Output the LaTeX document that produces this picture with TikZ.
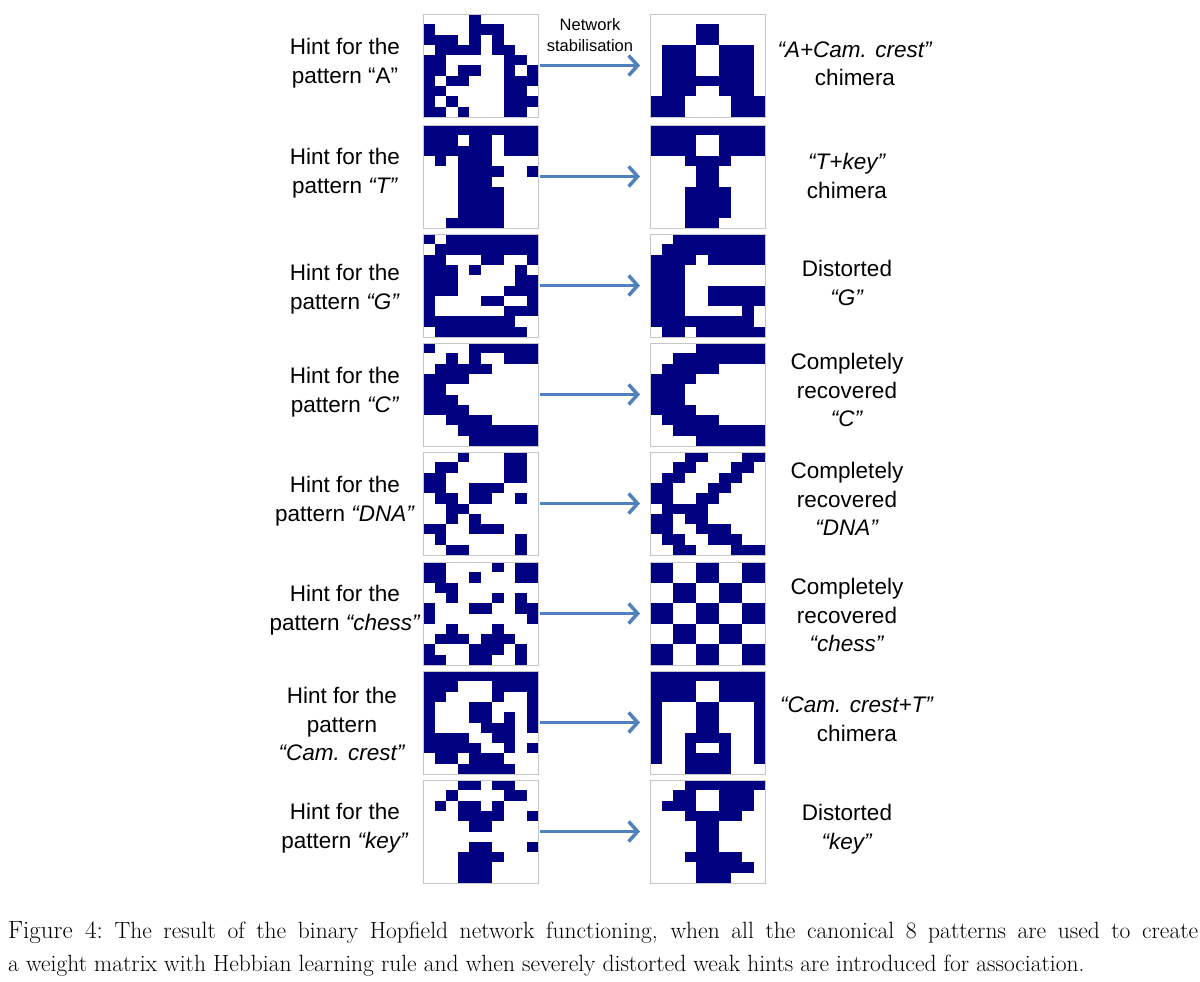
\documentclass[tikz,border=0pt]{standalone}
\usepackage{fontspec}
\newfontfamily\arial{Liberation Sans}
\usetikzlibrary{arrows.meta}
\definecolor{navy}{RGB}{0,0,128}
\definecolor{arrowblue}{RGB}{79,129,189}
\newcommand\hgrid[2]{%
  \foreach \rw [count=\r from 0] in {#2} {
    \foreach \v [count=\c from 0] in \rw {
      \ifnum\v=1 \fill[navy] ([xshift=\c*11.5pt,yshift=-\r*10.3pt]#1.north west) rectangle ++(11.5,10.3);\fi
    }
  }
  \draw[gray!45,line width=0.8pt] (#1.north west) rectangle (#1.south east);
}
\begin{document}
\begin{tikzpicture}[x=1pt,y=-1pt,
  panel/.style={rectangle,minimum width=115pt,minimum height=103pt,inner sep=0pt,outer sep=0pt},
  lab/.style={font=\arial\fontsize{22.5}{28.5}\selectfont,align=center},
  conn/.style={arrowblue,line width=3.5pt,-{Straight Barb[length=9pt,width=20pt,line width=3.5pt]},shorten >=10pt,shorten <=2pt}]
\useasboundingbox (0,0) rectangle (1200,982);
\foreach \i/\t in {1/14,2/125,3/234,4/343,5/452,6/562,7/671,8/780}{
  \node[panel] (L\i) at (480.5,\t+51.5) {};
  \node[panel] (R\i) at (707.5,\t+51.5) {};
  \draw[conn] (L\i.east) -- (R\i.west);
}
% A
\hgrid{L1}{{0,0,0,0,1,0,0,0,0,0},{1,0,0,0,1,1,1,0,0,0},{1,1,1,0,1,0,1,0,0,0},{0,1,1,1,1,0,1,1,0,0},{1,1,0,0,0,0,0,1,1,0},{1,1,0,1,1,0,0,1,0,1},{1,0,1,1,0,0,0,1,1,1},{1,1,0,0,0,0,0,1,1,0},{1,0,1,0,0,0,0,1,1,1},{1,1,0,1,0,0,0,1,1,0}}
\hgrid{R1}{{0,0,0,0,0,0,0,0,0,0},{0,0,0,0,1,1,0,0,0,0},{0,0,0,0,1,1,0,0,0,0},{0,1,1,1,0,0,1,1,1,0},{0,1,1,1,0,0,1,1,1,0},{0,1,1,1,0,0,1,1,1,0},{0,1,1,1,1,1,1,1,1,0},{0,1,1,1,0,0,1,1,1,0},{1,1,1,0,0,0,0,1,1,1},{1,1,1,0,0,0,0,1,1,1}}
% T
\hgrid{L2}{{1,1,1,1,1,1,1,1,1,1},{1,1,1,0,1,1,0,1,1,1},{1,1,1,1,1,1,0,1,1,1},{0,1,0,1,1,1,0,0,0,0},{0,0,0,1,1,1,1,0,0,1},{0,0,0,1,1,1,0,0,0,0},{0,0,0,1,1,1,1,0,0,0},{0,0,0,1,1,1,1,0,0,0},{0,0,0,1,1,1,1,0,0,0},{0,0,1,1,1,1,1,0,0,0}}
\hgrid{R2}{{1,1,1,1,1,1,1,1,1,1},{1,1,1,1,0,0,1,1,1,1},{1,1,1,1,0,0,1,1,1,1},{0,0,0,1,1,1,1,0,0,0},{0,0,0,0,1,1,0,0,0,0},{0,0,0,0,1,1,0,0,0,0},{0,0,0,1,1,1,1,0,0,0},{0,0,0,1,1,1,1,0,0,0},{0,0,0,1,1,1,1,0,0,0},{0,0,0,1,1,1,0,0,0,0}}
% G
\hgrid{L3}{{1,0,1,1,1,1,1,1,1,1},{0,1,1,1,1,1,1,1,1,1},{1,1,0,0,0,1,1,0,0,1},{1,1,1,0,1,0,0,0,1,0},{1,1,1,0,0,0,0,0,1,1},{1,1,1,0,0,0,0,1,1,1},{1,0,0,0,0,1,1,0,0,1},{1,0,0,0,0,0,0,1,1,1},{1,1,1,1,1,1,1,1,0,0},{0,1,1,1,1,1,1,1,1,0}}
\hgrid{R3}{{0,0,1,1,1,1,1,1,1,1},{0,1,1,1,1,1,1,1,1,1},{1,1,1,1,0,1,1,1,1,1},{1,1,1,0,0,0,0,0,0,0},{1,1,1,0,0,0,0,0,0,0},{1,1,1,0,0,1,1,1,1,1},{1,1,1,0,0,1,1,1,1,1},{1,1,1,0,0,0,0,0,1,0},{1,1,1,1,1,1,1,1,1,0},{0,1,1,0,1,1,1,1,1,1}}
% C
\hgrid{L4}{{1,0,0,0,1,1,1,1,1,1},{0,0,1,0,1,0,0,1,1,1},{0,1,1,1,1,1,0,0,0,0},{1,1,1,1,0,0,0,0,0,0},{1,1,0,0,0,0,0,0,0,0},{1,1,1,0,0,0,0,0,0,0},{1,1,1,1,0,0,0,0,0,0},{0,0,1,1,1,1,0,0,0,0},{0,0,0,1,1,1,1,1,1,1},{0,0,0,0,1,1,1,1,1,1}}
\hgrid{R4}{{0,0,0,0,1,1,1,1,1,1},{0,0,1,1,1,1,1,1,1,1},{0,1,1,1,1,1,0,0,0,0},{1,1,1,1,0,0,0,0,0,0},{1,1,1,0,0,0,0,0,0,0},{1,1,1,0,0,0,0,0,0,0},{1,1,1,1,0,0,0,0,0,0},{0,1,1,1,1,1,0,0,0,0},{0,0,1,1,1,1,1,1,1,1},{0,0,0,0,1,1,1,1,1,1}}
% DNA
\hgrid{L5}{{0,0,0,1,0,0,0,1,1,0},{0,1,1,0,0,0,0,1,1,0},{1,1,0,0,0,0,0,1,1,0},{1,1,0,0,1,1,1,0,0,0},{0,1,1,0,1,1,0,0,1,0},{0,0,1,1,0,0,0,0,0,0},{0,0,1,0,1,0,0,0,0,0},{1,1,0,0,1,1,1,0,0,0},{0,1,0,0,0,0,0,0,1,0},{0,0,1,1,0,0,0,0,1,0}}
\hgrid{R5}{{0,0,0,1,1,0,0,0,1,1},{0,0,1,1,0,0,0,1,1,0},{0,1,1,0,0,0,1,1,0,0},{1,1,0,0,0,1,1,0,0,0},{1,1,0,0,1,1,0,0,0,0},{0,1,1,1,1,0,0,0,0,0},{1,1,0,1,1,0,0,0,0,0},{1,1,0,0,1,1,1,0,0,0},{0,1,1,0,0,1,1,1,0,0},{0,0,1,1,0,0,0,1,1,1}}
% chess
\hgrid{L6}{{1,1,0,0,0,0,1,0,1,1},{1,1,0,0,1,0,0,0,1,1},{0,1,1,0,0,0,0,0,0,0},{0,0,1,0,0,0,1,0,1,0},{1,0,0,0,1,1,0,0,1,1},{1,0,0,0,0,0,0,0,0,1},{0,0,1,0,0,0,1,0,0,0},{0,1,1,1,0,1,1,1,0,0},{1,0,0,0,1,1,1,0,1,0},{1,1,0,0,1,1,0,0,1,0}}
\hgrid{R6}{{1,1,0,0,1,1,0,0,1,1},{1,1,0,0,1,1,0,0,1,1},{0,0,1,1,0,0,1,1,0,0},{0,0,1,1,0,0,1,1,0,0},{1,1,0,0,1,1,0,0,1,1},{1,1,0,0,1,1,0,0,1,1},{0,0,1,1,0,0,1,1,0,0},{0,0,1,1,0,0,1,1,0,0},{1,1,0,0,1,1,0,0,1,1},{1,1,0,0,1,1,0,0,1,1}}
% Cam crest
\hgrid{L7}{{1,1,1,1,1,1,1,1,1,1},{1,1,1,0,0,0,1,1,1,1},{1,1,0,0,0,0,1,0,0,1},{1,0,0,0,1,1,0,0,0,1},{1,0,0,0,1,1,0,1,0,1},{1,0,0,0,0,1,1,1,0,1},{1,1,1,1,0,0,1,1,0,0},{1,1,1,1,1,0,0,1,0,1},{0,1,1,0,1,1,1,0,0,0},{0,0,0,1,1,1,1,1,0,0}}
\hgrid{R7}{{1,1,1,1,1,1,1,1,1,1},{1,1,1,1,0,0,1,1,1,1},{1,1,1,1,0,0,1,1,1,1},{1,0,0,0,1,1,0,0,0,1},{1,0,0,0,1,1,0,0,0,1},{1,0,0,0,1,1,0,0,0,1},{1,0,0,1,1,1,1,0,0,1},{1,0,0,1,0,0,1,0,0,1},{1,0,0,1,1,1,1,0,0,1},{0,0,0,1,1,1,1,0,0,0}}
% key
\hgrid{L8}{{0,0,0,1,1,0,1,1,0,0},{0,0,1,0,0,0,0,1,1,0},{0,1,0,1,1,0,1,0,0,0},{0,0,0,1,1,1,1,0,0,1},{0,0,0,0,1,1,0,0,0,0},{0,0,0,0,0,0,0,0,0,0},{0,0,0,0,1,1,0,0,0,1},{0,0,0,1,1,1,1,0,0,0},{0,0,0,1,1,1,0,0,0,0},{0,0,0,1,1,1,0,0,0,0}}
\hgrid{R8}{{0,0,0,1,1,1,1,1,1,1},{0,0,1,1,0,0,1,1,1,0},{0,1,1,1,0,0,1,1,1,0},{0,0,0,1,1,1,1,1,0,0},{0,0,0,0,1,1,0,0,0,0},{0,0,0,0,1,1,0,0,0,0},{0,0,0,0,1,1,0,0,0,0},{0,0,0,1,1,1,1,1,0,0},{0,0,0,0,1,1,1,1,1,0},{0,0,0,0,1,1,1,0,0,0}}
% labels
\node[font=\arial\fontsize{16.5}{21}\selectfont,align=center] (net) at (590,35) {Network\\stabilisation};
\node[lab] (l1) at (345,63) {Hint for the\\pattern “A”};
\node[lab] (l2) at (345,173) {Hint for the\\pattern \textit{“T”}};
\node[lab] (l3) at (345,289) {Hint for the\\pattern \textit{“G”}};
\node[lab] (l4) at (345,392) {Hint for the\\pattern \textit{“C”}};
\node[lab] (l5) at (345,501) {Hint for the\\pattern \textit{“DNA”}};
\node[lab] (l6) at (345,610) {Hint for the\\pattern \textit{“chess”}};
\node[lab] (l7) at (342,724) {Hint for the\\pattern\\\textit{“Cam. crest”}};
\node[lab] (l8) at (345,828) {Hint for the\\pattern \textit{“key”}};
\node[lab] (r1) at (855,64) {\textit{“A+Cam. crest”}\\chimera};
\node[lab] (r2) at (847,176) {\textit{“T+key”}\\chimera};
\node[lab] (r3) at (847,283) {Distorted\\\textit{“G”}};
\node[lab] (r4) at (847,390) {Completely\\recovered\\\textit{“C”}};
\node[lab] (r5) at (847,499) {Completely\\recovered\\\textit{“DNA”}};
\node[lab] (r6) at (847,615) {Completely\\recovered\\\textit{“chess”}};
\node[lab] (r7) at (857,719) {\textit{“Cam. crest+T”}\\chimera};
\node[lab] (r8) at (847,829) {Distorted\\\textit{“key”}};
\node[anchor=north west,text width=1190pt,align=justify,inner sep=0pt,font=\fontsize{23.5}{33}\selectfont] (cap) at (8,921)
 {{\fontsize{25}{33}\selectfont Figure 4:}\enskip The result of the binary Hopfield network functioning, when all the canonical 8 patterns are used to create\linebreak a weight matrix with Hebbian learning rule and when severely distorted weak hints are introduced for association.};
\end{tikzpicture}
\end{document}
